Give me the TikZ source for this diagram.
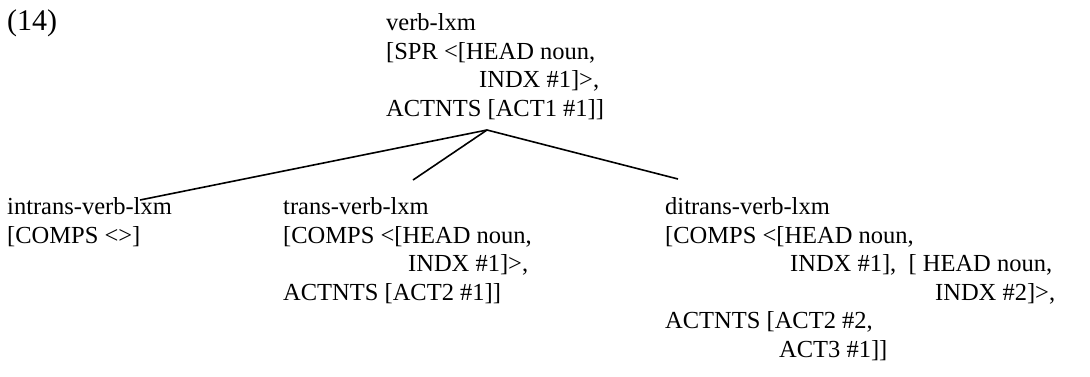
\documentclass[tikz,border=0pt]{standalone}
\usepackage{fontspec}
\setmainfont{Liberation Serif}
\usepackage{tikz}
\tikzset{
  avm/.style = {align=left, inner sep=0pt, anchor=north west,
    font=\fontsize{24.5}{28.5}\selectfont},% typed feature structure
  exnum/.style = {inner sep=0pt, anchor=base west,
    font=\fontsize{30}{34}\selectfont},% example number
  branch/.style = {draw=black, line width=1.6pt}% tree line
}

\begin{document}
\begin{tikzpicture}[x=1pt, y=-1pt]
  \useasboundingbox (0,0) rectangle (1090,376);
  \node [exnum] (exno) at (7,30) {(14)};
  \node [avm] (verb) at (386,13.3) {verb-lxm\\
    {}[SPR <[HEAD noun,\\
    \hspace*{93pt}INDX \#1]>,\\
    ACTNTS [ACT1 \#1]]};
  \node [avm] (intrans) at (7,197.3) {intrans-verb-lxm\\
    {}[COMPS <>]};
  \node [avm] (trans) at (283,197.3) {trans-verb-lxm\\
    {}[COMPS <[HEAD noun,\\
    \hspace*{125pt}INDX \#1]>,\\
    ACTNTS [ACT2 \#1]]};
  \node [avm] (ditrans) at (665,197.3) {ditrans-verb-lxm\\
    {}[COMPS <[HEAD noun,\\
    \hspace*{125pt}INDX \#1],\ \ [ HEAD noun,\\
    \hspace*{270pt}INDX \#2]>,\\
    ACTNTS [ACT2 \#2,\\
    \hspace*{114pt}ACT3 \#1]]};
  % branches of the type hierarchy
  \coordinate (apex) at (487,130);
  \coordinate (intrans_end) at (140,200);
  \coordinate (trans_end) at (413,180);
  \coordinate (ditrans_end) at (678,179);
  \draw [branch] (apex) -- (intrans_end);
  \draw [branch] (apex) -- (trans_end);
  \draw [branch] (apex) -- (ditrans_end);
\end{tikzpicture}
\end{document}
